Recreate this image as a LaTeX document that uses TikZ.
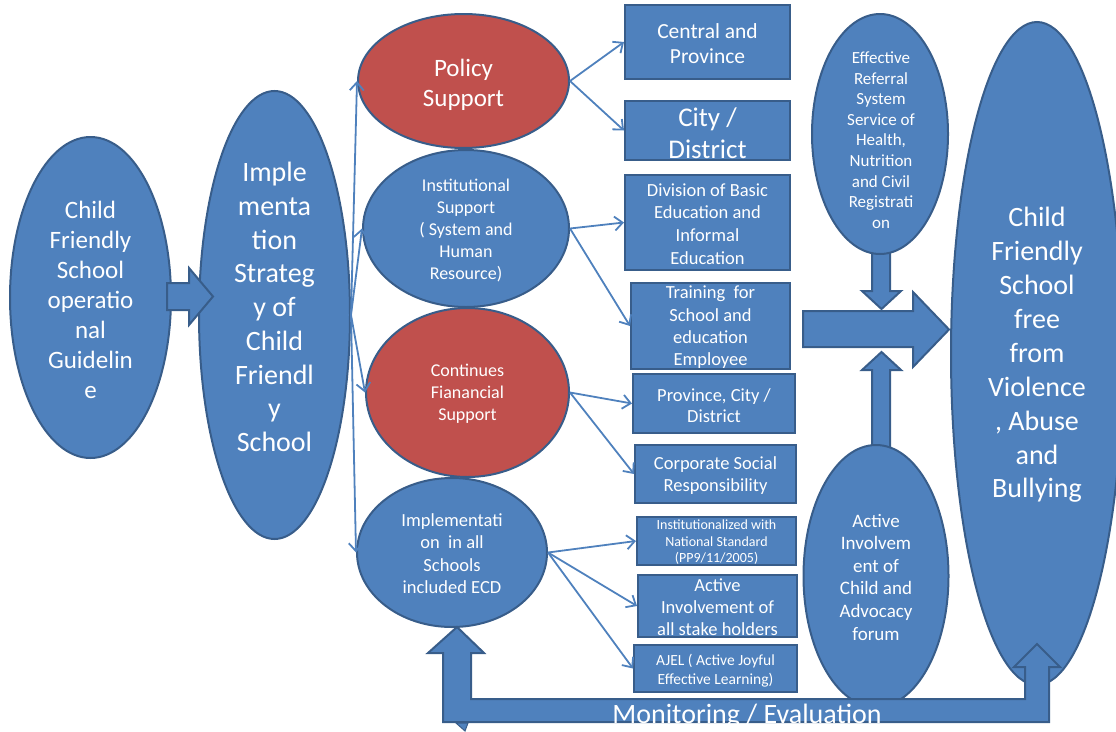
\documentclass[tikz,border=0pt]{standalone}
\usepackage{fontspec}
\setmainfont{Carlito}
\usetikzlibrary{arrows.meta,shapes.geometric}
\definecolor{cfsblue}{HTML}{4F81BD}
\definecolor{cfsline}{HTML}{385D8A}
\definecolor{cfsred}{HTML}{C0504D}
\newcommand\fsz[2]{\fontsize{#1}{#2}\selectfont}
\tikzset{
  blob/.style={ellipse, draw=cfsline, fill=cfsblue, line width=2pt, inner sep=0pt},
  redblob/.style={blob, fill=cfsred},
  card/.style={rectangle, draw=cfsline, fill=cfsblue, line width=2pt, inner sep=0pt},
  lbl/.style={text=white, align=center, inner sep=0pt},
  link/.style={draw=cfsblue, line width=1.8pt,
    -{Straight Barb[length=8pt,width=14pt,line width=1.8pt]}},
  block/.style={draw=cfsline, fill=cfsblue, line width=2pt, line join=miter},
}
\begin{document}
\begin{tikzpicture}[x=1pt,y=-1pt]
\useasboundingbox (0,0) rectangle (1116,731);
\clip (0,0) rectangle (1116,731);

% vertical block arrows feeding the central horizontal arrow (drawn under the ellipses)
\draw[block] (872,250) -- (890,250) -- (890,291) -- (901,291) -- (881.5,309)
  -- (862,291) -- (872,291) -- cycle;
\draw[block] (872,455) -- (872,370) -- (862,370) -- (881.5,352) -- (901,370)
  -- (890,370) -- (890,455) -- cycle;

% ellipses
\node[blob, minimum width=161pt, minimum height=321pt] (guide) at (90.5,297.5) {};
\node[blob, minimum width=151pt, minimum height=448pt] (strat) at (274.5,315) {};
\node[redblob, minimum width=211pt, minimum height=134pt] (policy) at (463.5,81) {};
\node[blob, minimum width=206pt, minimum height=157pt] (inst) at (466,228.5) {};
\node[redblob, minimum width=203pt, minimum height=169pt] (fin) at (467.5,392.5) {};
\node[blob, minimum width=190pt, minimum height=149pt] (implall) at (452,552.5) {};
\node[blob, minimum width=136pt, minimum height=240pt] (refer) at (880,134) {};
\node[blob, minimum width=145pt, minimum height=262pt] (forum) at (876,576) {};
\node[blob, minimum width=172pt, minimum height=663pt] (goal) at (1037,353.5) {};

% boxes
\node[card, minimum width=165pt, minimum height=74pt] (central) at (707.5,42) {};
\node[card, minimum width=165pt, minimum height=59pt] (city) at (707.5,130.5) {};
\node[card, minimum width=165pt, minimum height=95pt] (division) at (707.5,222.5) {};
\node[card, minimum width=159pt, minimum height=86pt] (training) at (710.5,326) {};
\node[card, minimum width=162pt, minimum height=59pt] (province) at (714,403.5) {};
\node[card, minimum width=161pt, minimum height=58pt] (csr) at (715.5,474) {};
\node[card, minimum width=159pt, minimum height=48pt] (standard) at (716.5,541) {};
\node[card, minimum width=159pt, minimum height=62pt] (stake) at (717.5,606) {};
\node[card, minimum width=163pt, minimum height=47pt] (ajel) at (715.5,668.5) {};

% block arrows between the first two ellipses and into the goal
\draw[block] (167,283) -- (189,283) -- (189,268) -- (213,296.5) -- (189,325)
  -- (189,310) -- (167,310) -- cycle;
\draw[block] (803,311) -- (913,311) -- (913,292) -- (949,329.5) -- (913,367)
  -- (913,347) -- (803,347) -- cycle;

% monitoring / evaluation loop
\draw[block] (457,627) -- (484,653) -- (471,653) -- (471,699) -- (1025,699)
  -- (1025,667) -- (1014,667) -- (1037,644) -- (1060,667) -- (1049,667)
  -- (1049,722) -- (443,722) -- (443,653) -- (428,653) -- cycle;
\draw[block, line width=1pt] (456,723) -- (468,723) -- (465,731) -- cycle;

% thin connectors
\draw[link] (strat.east) -- (policy.west);
\draw[link] (strat.east) -- (inst.west);
\draw[link] (strat.east) -- (fin.west);
\draw[link] (strat.east) -- (implall.west);
\draw[link] (policy.east) -- (central.west);
\draw[link] (policy.east) -- (city.west);
\draw[link] (inst.east) -- (division.west);
\draw[link] (inst.east) -- (training.west);
\draw[link] (fin.east) -- (province.west);
\draw[link] (fin.east) -- (csr.west);
\draw[link] (implall.east) -- (standard.west);
\draw[link] (implall.east) -- (stake.west);
\draw[link] (implall.east) -- (ajel.west);

% texts of the ellipses
\node[lbl, font=\fsz{25}{30}] (guide-t) at (90.5,300)
  {Child\\Friendly\\School\\operatio\\nal\\Guidelin\\e};
\node[lbl, font=\fsz{28}{33.75}] (strat-t) at (274.5,307)
  {Imple\\menta\\tion\\Strateg\\y of\\Child\\Friendl\\y\\School};
\node[lbl, font=\fsz{25}{30}] (policy-t) at (463.5,85) {Policy\\Support};
\node[lbl, font=\fsz{18}{22}] (inst-t) at (466,230)
  {Institutional\\Support\\( System and\\Human\\Resource)};
\node[lbl, font=\fsz{18}{22}] (fin-t) at (467.5,394)
  {Continues\\Fianancial\\Support};
\node[lbl, font=\fsz{18.5}{22.3}] (implall-t) at (452,553.5)
  {Implementati\\on\ \ in all\\Schools\\included ECD};
\node[lbl, font=\fsz{17}{20.6}] (refer-t) at (881,140)
  {Effective\\Referral\\System\\Service of\\Health,\\Nutrition\\and Civil\\Registrati\\on};
\node[lbl, font=\fsz{19}{22.6}] (forum-t) at (876,577)
  {Active\\Involvem\\ent of\\Child and\\Advocacy\\forum};
\node[lbl, font=\fsz{28}{33.9}] (goal-t) at (1037,355)
  {Child\\Friendly\\School\\free\\from\\Violence\\, Abuse\\and\\Bullying};

% texts of the boxes
\node[lbl, font=\fsz{21.5}{25}] (central-t) at (707.5,43.5) {Central and\\Province};
\node[lbl, font=\fsz{27}{32}] (city-t) at (707.5,133) {City /\\District};
\node[lbl, font=\fsz{18.5}{22.7}] (division-t) at (707.5,224)
  {Division of Basic\\Education and\\Informal\\Education};
\node[lbl, font=\fsz{18.5}{22.3}] (training-t) at (710.5,327.5)
  {Training\ \ for\\School and\\education\\Employee};
\node[lbl, font=\fsz{18.5}{21}] (province-t) at (714,405.5) {Province, City /\\District};
\node[lbl, font=\fsz{18.5}{22}] (csr-t) at (715.5,476) {Corporate Social\\Responsibility};
\node[lbl, font=\fsz{14}{16.5}] (standard-t) at (716.5,542.5)
  {Institutionalized with\\National Standard\\(PP9/11/2005)};
\node[lbl, font=\fsz{18.5}{22}] (stake-t) at (717.5,607)
  {Active\\Involvement of\\all stake holders};
\node[lbl, font=\fsz{15.5}{19}] (ajel-t) at (715.5,670.5)
  {AJEL ( Active Joyful\\Effective Learning)};

% label of the loop
\node[lbl, font=\fsz{28}{30}, anchor=base] (loop-t) at (747,723) {Monitoring / Evaluation};
\end{tikzpicture}
\end{document}
